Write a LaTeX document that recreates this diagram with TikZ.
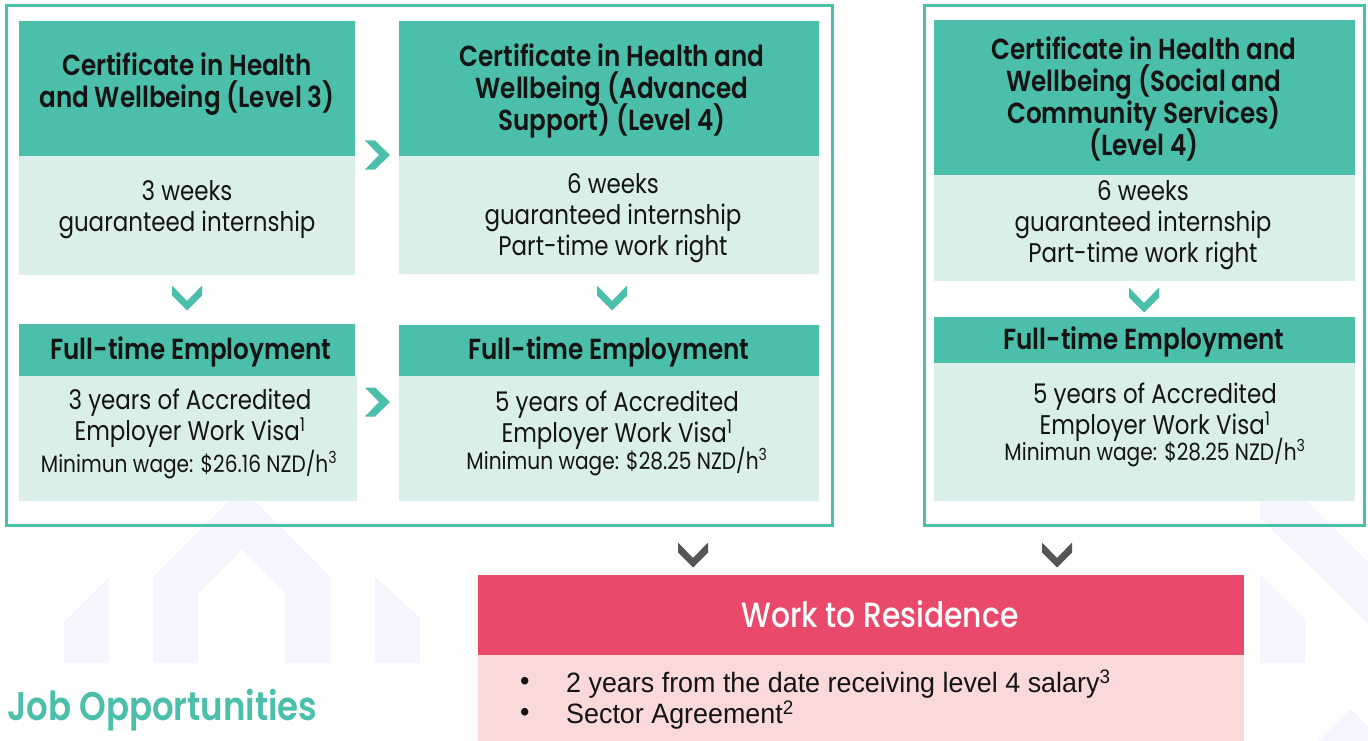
\documentclass[tikz,border=0pt]{standalone}
\usepackage{fontspec}
\setmainfont{Poppins}[FakeStretch=0.85, BoldFont={* SemiBold}]
\newfontfamily\medfont{Poppins Medium}[FakeStretch=0.85]
\newfontfamily\bulletfont{Liberation Sans}[FakeStretch=0.96]
\setlength{\lineskiplimit}{-60pt}
\definecolor{teal1}{HTML}{4BBFA9}
\definecolor{lightteal}{HTML}{DAEFE9}
\definecolor{pinkh}{HTML}{E94A6B}
\definecolor{pinkb}{HTML}{FAD9D9}
\definecolor{chevgrey}{HTML}{555555}
\definecolor{patt}{HTML}{F4F5FD}
\definecolor{txt}{HTML}{141414}
\tikzset{
  box/.style={draw=none, inner sep=0pt, outer sep=0pt, anchor=north west},
  hdrbox/.style={box, fill=teal1},
  bodybox/.style={box, fill=lightteal},
  htext/.style={align=center, font=\bfseries\fontsize{29}{32}\selectfont, text=txt, inner sep=0pt},
  btext/.style={align=center, font=\fontsize{27}{31}\selectfont, text=txt, inner sep=0pt},
  wtext/.style={font=\fontsize{23.7}{26}\selectfont, text=txt, inner sep=0pt},
  bultext/.style={font=\bulletfont\fontsize{28}{31}\selectfont, text=txt, inner sep=0pt, anchor=west},
  framebox/.style={draw=teal1, line width=3pt},
  rchev/.pic={\path[pic actions] (-12,-14.5) -- (-2,-14.5) -- (13,0) -- (-2,14.5) -- (-12,14.5) -- (2,0) -- cycle;},
  dchev/.pic={\path[pic actions] (-15,-12.5) -- (0,3) -- (15,-12.5) -- (15,-2.5) -- (0,12.5) -- (-15,-2.5) -- cycle;}
}
\begin{document}
\begin{tikzpicture}[x=1pt,y=-1pt]
\useasboundingbox (0,0) rectangle (1368,741);
\fill[white] (0,0) rectangle (1368,741);
% faint background pattern
\fill[patt] (64,663) -- (64,622) -- (109,577) -- (109,663) -- cycle;
\fill[patt] (153,663) -- (153,577) -- (242,488) -- (330,577) -- (330,663) -- (285,663) -- (285,593) -- (242,549) -- (198,593) -- (198,663) -- cycle;
\fill[patt] (375,663) -- (375,577) -- (420,618) -- (420,663) -- cycle;
\fill[patt] (1260,663) -- (1260,575) -- (1305,620) -- (1305,663) -- cycle;
\fill[patt] (1260,500) -- (1305,500) -- (1368,562) -- (1368,623) -- (1260,518) -- cycle;
\fill[patt] (1318,741) -- (1350,709) -- (1368,727) -- (1368,741) -- cycle;
% frames
\draw[framebox] (6,6) rectangle (832,525);
\draw[framebox] (924,6) rectangle (1364,525);
% column 1
\node[hdrbox, minimum width=336, minimum height=135] (c1h) at (19,21) {};
\node[bodybox, minimum width=336, minimum height=119] (c1b) at (19,156) {};
\node[htext] (c1ht) at (187,84) {Certificate in Health\\and Wellbeing (Level 3)};
\node[btext] (c1bt) at (187,210) {3 weeks\\guaranteed internship};
\node[hdrbox, minimum width=336, minimum height=52] (e1h) at (19,324) {};
\node[bodybox, minimum width=338, minimum height=125] (e1b) at (19,376) {};
\node[htext] (e1ht) at (191,352) {Full-time Employment};
\node[btext] (e1bt) at (190,418) {3 years of Accredited\\Employer Work Visa\textsuperscript{1}};
\node[wtext] (e1wt) at (189,465) {Minimun wage: \$26.16 NZD/h\textsuperscript{3}};
% column 2
\node[hdrbox, minimum width=420, minimum height=135] (c2h) at (399,21) {};
\node[bodybox, minimum width=420, minimum height=118] (c2b) at (399,156) {};
\node[htext] (c2ht) at (612,91) {Certificate in Health and\\Wellbeing (Advanced\\Support) (Level 4)};
\node[btext] (c2bt) at (613,218) {6 weeks\\guaranteed internship\\Part-time work right};
\node[hdrbox, minimum width=420, minimum height=51] (e2h) at (399,325) {};
\node[bodybox, minimum width=420, minimum height=125] (e2b) at (399,376) {};
\node[htext] (e2ht) at (609,352) {Full-time Employment};
\node[btext] (e2bt) at (617,420) {5 years of Accredited\\Employer Work Visa\textsuperscript{1}};
\node[wtext] (e2wt) at (617,462) {Minimun wage: \$28.25 NZD/h\textsuperscript{3}};
% column 3
\node[hdrbox, minimum width=421, minimum height=155] (c3h) at (934,20) {};
\node[bodybox, minimum width=421, minimum height=106] (c3b) at (934,175) {};
\node[htext] (c3ht) at (1144,99) {Certificate in Health and\\Wellbeing (Social and\\Community Services)\\(Level 4)};
\node[btext] (c3bt) at (1143,225) {6 weeks\\guaranteed internship\\Part-time work right};
\node[hdrbox, minimum width=421, minimum height=46] (e3h) at (934,317) {};
\node[bodybox, minimum width=421, minimum height=138] (e3b) at (934,363) {};
\node[htext] (e3ht) at (1144,342) {Full-time Employment};
\node[btext] (e3bt) at (1155,412) {5 years of Accredited\\Employer Work Visa\textsuperscript{1}};
\node[wtext] (e3wt) at (1155,453) {Minimun wage: \$28.25 NZD/h\textsuperscript{3}};
% chevrons
\pic[fill=teal1] at (377,155) {rchev};
\pic[fill=teal1] at (377,402) {rchev};
\pic[fill=teal1] at (187,298) {dchev};
\pic[fill=teal1] at (612,298) {dchev};
\pic[fill=teal1] at (1144,300) {dchev};
\pic[fill=chevgrey] at (693,555) {dchev};
\pic[fill=chevgrey] at (1057,555) {dchev};
% work to residence
\node[box, fill=pinkh, minimum width=766, minimum height=80] (wh) at (478,575) {};
\node[box, fill=pinkb, minimum width=766, minimum height=86] (wb) at (478,655) {};
\node[font=\medfont\fontsize{35}{38}\selectfont, text=white, inner sep=0pt] (wht) at (880,614) {Work to Residence};
\node[bultext] (d1) at (520,684) {•};
\node[bultext] (d2) at (520,715) {•};
\node[bultext] (b1) at (566,684) {2 years from the date receiving level 4 salary\textsuperscript{3}};
\node[bultext] (b2) at (566,715) {Sector Agreement\textsuperscript{2}};
% title
\node[anchor=base west, font=\bfseries\fontsize{40}{44}\selectfont, text=teal1, inner sep=0pt] (jo) at (7,720) {Job Opportunities};
\end{tikzpicture}
\end{document}
